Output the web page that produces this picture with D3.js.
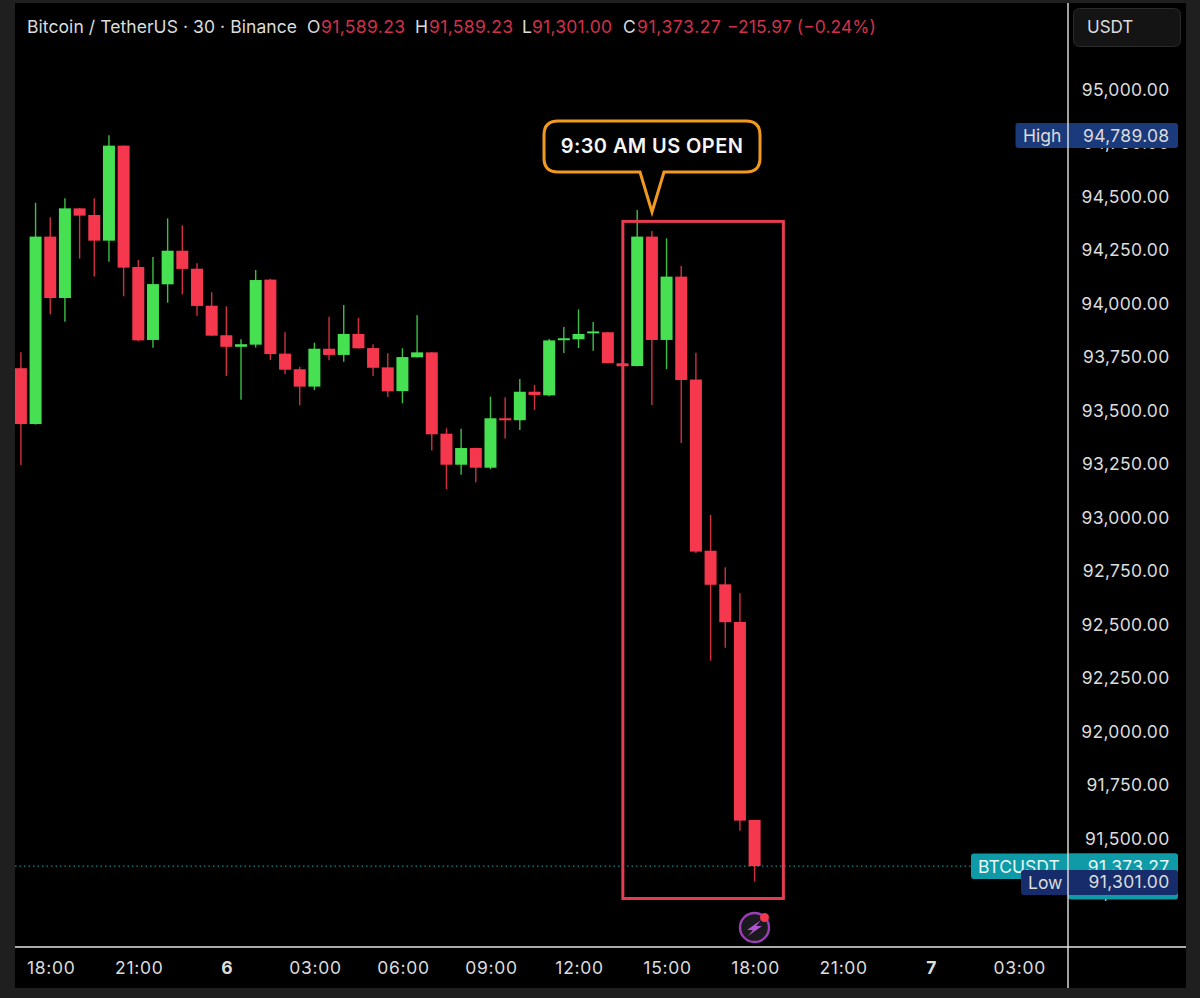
<!DOCTYPE html>
<html><head><meta charset="utf-8">
<script src="https://cdn.jsdelivr.net/npm/d3@7"></script>
<style>html,body{margin:0;padding:0;background:#1f1f1f}svg{display:block}text{font-family:Inter,"Noto Sans",sans-serif}</style>
</head><body><svg id="c" width="1200" height="998"></svg>
<script>
const opens =[93700,93439,94315,94028,94447,94416,94296,94740,94173,93832,94092,94249,94165,93992,93854,93800,93810,94114,93768,93695,93614,93791,93762,93860,93794,93704,93593,93751,93774,93394,93249,93327,93235,93466,93457,93590,93573,93835,93835,93866,93868,93723,93710,94315,93832,94128,93647,92847,92690,92514,91589.23];
const highs =[93774,94473,94405,94494,94449,94494,94789.08,94741,94206,94220,94400,94368,94190,94055,93989,93835,94159,94118,93868,93707,93819,93941,93995,93935,93812,93770,93793,93947,93776,93419,93417,93328,93567,93564,93650,93622,93836,93892,93975,93916,93868,93748,94439,94341,94307,94178,93772,93014,92770,92648,91589.23];
const lows  =[93248,93437,93952,93917,94212,94128,94198,94036,93826,93796,94006,94045,93945,93850,93664,93553,93796,93738,93672,93527,93598,93737,93730,93792,93664,93565,93536,93750,93316,93135,93202,93167,93228,93371,93411,93505,93569,93771,93794,93782,93723,93684,93709,93528,93696,93350,92836,92333,92394,91539,91301];
const closes=[93439,94315,94028,94447,94413,94296,94740,94170,93830,94093,94249,94164,93991,93852,93800,93812,94112,93766,93693,93614,93791,93762,93860,93793,93702,93592,93752,93774,93391,93249,93327,93235,93466,93457,93590,93575,93830,93840,93860,93872,93724,93709,94315,93832,94128,93645,92843,92688,92513,91586,91373.27];

const priceTicks=[95000,94750,94500,94250,94000,93750,93500,93250,93000,92750,92500,92250,92000,91750,91500,91250];
const timeIndex=[2,8,14,20,26,32,38,44,50,56,62,68];
const timeLabels=["18:00","21:00","6","03:00","06:00","09:00","12:00","15:00","18:00","21:00","7","03:00"];
const boldLabels=["6","7"];
const headerTitle="Bitcoin / TetherUS · 30 · Binance";
const ohlcLetters=["O","H","L","C"];
const ohlcValues=["91,589.23","91,589.23","91,301.00","91,373.27"];
const changeText="−215.97 (−0.24%)";
const calloutText="9:30 AM US OPEN";
const symbol="BTCUSDT", lastPrice=91373.27, lowPrice=91301, highPrice=94789.08;
const frameFromIndex=41.0, frameToIndex=51.94, frameTopPrice=94386, frameBottomPrice=91222;

const svg=d3.select("#c");
const GREEN="#46e052",RED="#f5384e",TXT="#dcdcdc",SP="0.3px";
const y=d3.scaleLinear().domain([95000,91500]).range([90,839]);
const x=d3.scaleLinear().domain([0,50]).range([20.9,754.6]);

svg.append("rect").attr("width",1200).attr("height",998).attr("fill","#1f1f1f");
svg.append("rect").attr("x",15).attr("y",3).attr("width",1171).attr("height",985).attr("fill","#000");
const defs=svg.append("defs");
defs.append("clipPath").attr("id","plot").append("rect").attr("x",15).attr("y",3).attr("width",1053).attr("height",944);

// header
const hdr=svg.append("g").attr("font-size",17.5);
hdr.append("text").attr("x",27).attr("y",26).attr("dominant-baseline","central").attr("fill",TXT).attr("textLength",270).text(headerTitle);
const letterX=[307,415,522,623], valueX=[321,429,532,637];
ohlcLetters.forEach((l,i)=>{
  hdr.append("text").attr("x",letterX[i]).attr("y",26).attr("dominant-baseline","central").attr("fill",TXT).text(l);
  hdr.append("text").attr("x",valueX[i]).attr("y",26).attr("dominant-baseline","central").attr("fill","#d2304a").attr("textLength",i==2?80:84).text(ohlcValues[i]);
});
hdr.append("text").attr("x",727).attr("y",26).attr("dominant-baseline","central").attr("fill","#d2304a").attr("textLength",149).text(changeText);

// last price dotted line
svg.append("line").attr("x1",15).attr("x2",1068).attr("y1",y(lastPrice)).attr("y2",y(lastPrice))
  .attr("stroke","#1fa5a8").attr("stroke-width",1).attr("stroke-dasharray","1.5 3");

// candles
const cdl=svg.append("g").attr("clip-path","url(#plot)");
const bw=12;
opens.forEach((o,i)=>{
  const c=closes[i],col=c>=o?GREEN:RED,cx=x(i);
  cdl.append("line").attr("x1",cx).attr("x2",cx).attr("y1",y(highs[i])).attr("y2",y(lows[i])).attr("stroke",col).attr("stroke-width",1.4).attr("stroke-opacity",.85);
  const t=y(Math.max(o,c)),b=y(Math.min(o,c));
  cdl.append("rect").attr("x",cx-bw/2).attr("y",t).attr("width",bw).attr("height",Math.max(b-t,2)).attr("fill",col);
});

// red frame
svg.append("rect").attr("x",x(frameFromIndex)+.3).attr("y",y(frameTopPrice)).attr("width",x(frameToIndex)-x(frameFromIndex)).attr("height",y(frameBottomPrice)-y(frameTopPrice))
  .attr("fill","none").attr("stroke","#e43d52").attr("stroke-width",3);

// callout
const L=544,R=760,T=121,B=172,r=14;
svg.append("path").attr("d",`M${L+r},${T}H${R-r}Q${R},${T} ${R},${T+r}V${B-r}Q${R},${B} ${R-r},${B}H664L652,212L640,${B}H${L+r}Q${L},${B} ${L},${B-r}V${T+r}Q${L},${T} ${L+r},${T}Z`)
  .attr("fill","#000").attr("stroke","#f29a1f").attr("stroke-width",3).attr("stroke-linejoin","miter");
svg.append("text").attr("x",652).attr("y",145.5).attr("text-anchor","middle").attr("dominant-baseline","central").attr("fill","#f5f5f5").attr("font-size",20).attr("font-weight",600).attr("letter-spacing","0.4px").text(calloutText);

// axes
const ya=svg.append("g").attr("transform","translate(1169.5,-1)").call(d3.axisLeft(y).tickValues(priceTicks).tickSize(0).tickPadding(0).tickFormat(d3.format(",.2f")));
ya.select(".domain").remove();
ya.selectAll("text").attr("font-size",17.5).attr("fill",TXT).attr("font-family","Inter,'Noto Sans',sans-serif").attr("dy","0.35em").attr("letter-spacing",SP);
const xa=svg.append("g").attr("transform","translate(0.5,968)").call(d3.axisBottom(x).tickValues(timeIndex).tickSize(0).tickPadding(0).tickFormat((d,i)=>timeLabels[i]));
xa.select(".domain").remove();
xa.selectAll("text").attr("font-size",17.5).attr("fill",TXT).attr("font-family","Inter,'Noto Sans',sans-serif").attr("dy","0.35em").attr("y",0).attr("letter-spacing","0.7px")
  .attr("font-weight",function(){return boldLabels.includes(this.textContent)?700:400;});

// tags
const TEAL="#0f9aa8";
svg.append("rect").attr("x",971).attr("y",853.5).attr("width",207).attr("height",25.5).attr("rx",3).attr("fill",TEAL);
svg.append("rect").attr("x",1068).attr("y",853.5).attr("width",110).attr("height",46).attr("rx",3).attr("fill",TEAL);
svg.append("text").attr("x",978).attr("y",866.5).attr("dominant-baseline","central").attr("fill","#e8f6f7").attr("font-size",17.5).text(symbol);
svg.append("text").attr("x",1169.5).attr("y",866.5).attr("text-anchor","end").attr("dominant-baseline","central").attr("fill","#e8f6f7").attr("font-size",17.5).attr("letter-spacing",SP).text(d3.format(",.2f")(lastPrice));
svg.append("rect").attr("x",1021).attr("y",870).attr("width",157).attr("height",25).attr("rx",3).attr("fill","#172c6b");
svg.append("text").attr("x",1028).attr("y",882).attr("dominant-baseline","central").attr("fill",TXT).attr("font-size",17.5).text("Low");
svg.append("text").attr("x",1169.5).attr("y",881).attr("text-anchor","end").attr("dominant-baseline","central").attr("fill",TXT).attr("font-size",17.5).attr("letter-spacing",SP).text(d3.format(",.2f")(lowPrice));
svg.append("rect").attr("x",1015.5).attr("y",123).attr("width",162.5).attr("height",25).attr("rx",3).attr("fill","#1b3a7c");
svg.append("text").attr("x",1023).attr("y",135).attr("dominant-baseline","central").attr("fill",TXT).attr("font-size",17.5).text("High");
svg.append("text").attr("x",1169.5).attr("y",135).attr("text-anchor","end").attr("dominant-baseline","central").attr("fill",TXT).attr("font-size",17.5).attr("letter-spacing",SP).text(d3.format(",.2f")(highPrice));

// separators
svg.append("line").attr("x1",1068).attr("x2",1068).attr("y1",3).attr("y2",988).attr("stroke","#e6e6e6").attr("stroke-width",1.4);
svg.append("line").attr("x1",15).attr("x2",1186).attr("y1",947).attr("y2",947).attr("stroke","#e6e6e6").attr("stroke-width",1.4);

// USDT button
svg.append("rect").attr("x",1073.5).attr("y",8.5).attr("width",107).attr("height",38).attr("rx",6).attr("fill","#141414").attr("stroke","#2b2b2b");
svg.append("text").attr("x",1087).attr("y",27).attr("dominant-baseline","central").attr("fill",TXT).attr("font-size",17).text("USDT");

// bolt icon
svg.append("circle").attr("cx",754.5).attr("cy",927.5).attr("r",14.5).attr("fill","#1a1a1e").attr("stroke","#9a3fb8").attr("stroke-width",2.4);
svg.append("path").attr("d","M761,920L747,930H753L748,936L762,926H756Z").attr("fill","#b054d0");
svg.append("circle").attr("cx",764.5).attr("cy",917.5).attr("r",4.5).attr("fill","#f0394f");
</script></body></html>
